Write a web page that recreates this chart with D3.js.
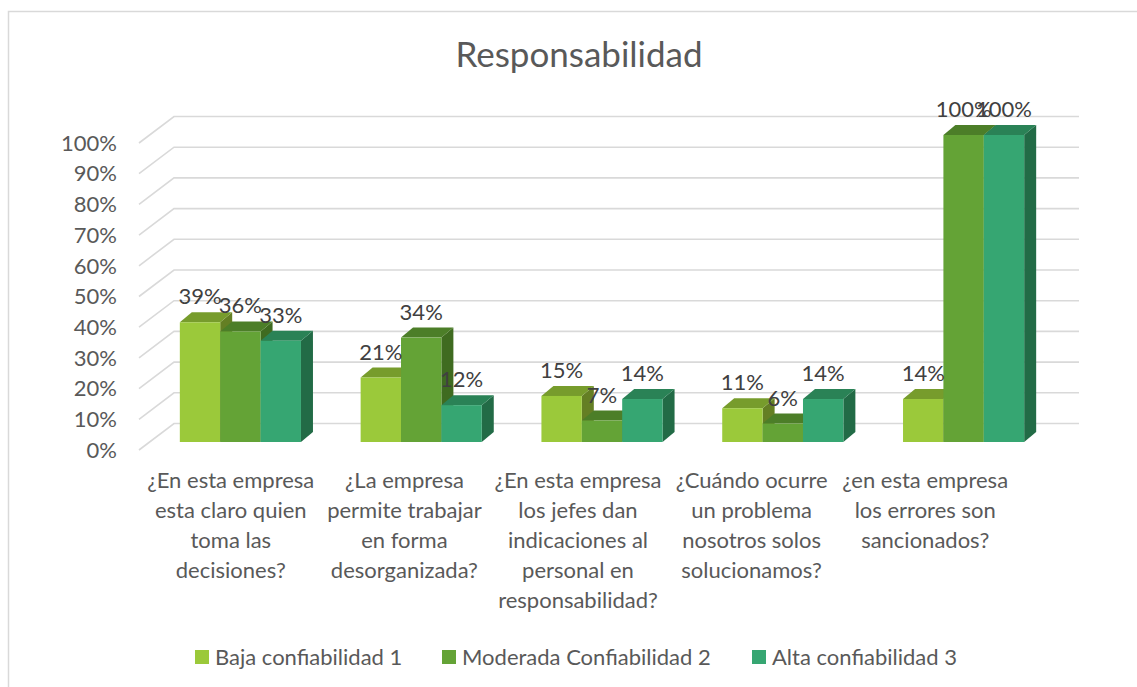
<!DOCTYPE html>
<html>
<head>
<meta charset="utf-8">
<script src="https://cdn.jsdelivr.net/npm/d3@7"></script>
<style>
  html, body { margin: 0; padding: 0; background: #ffffff; }
  svg { display: block; }
  text { font-family: Lato, "Open Sans", sans-serif; }
</style>
</head>
<body>
<svg id="chart" width="1137" height="687"></svg>
<script>
// ---- data ----
const title = "Responsabilidad";
const categories = [
  ["¿En esta empresa", "esta claro quien", "toma las", "decisiones?"],
  ["¿La empresa", "permite trabajar", "en forma", "desorganizada?"],
  ["¿En esta empresa", "los jefes dan", "indicaciones al", "personal en", "responsabilidad?"],
  ["¿Cuándo ocurre", "un problema", "nosotros solos", "solucionamos?"],
  ["¿en esta empresa", "los errores son", "sancionados?"]
];
const seriesNames = ["Baja confiabilidad 1", "Moderada Confiabilidad 2", "Alta confiabilidad 3"];
const baja      = [0.39, 0.21, 0.15, 0.11, 0.14];
const moderada  = [0.36, 0.34, 0.07, 0.06, 1.00];
const alta      = [0.33, 0.12, 0.14, 0.14, 1.00];
const yTicks    = [0, 0.1, 0.2, 0.3, 0.4, 0.5, 0.6, 0.7, 0.8, 0.9, 1.0];

// ---- styles ----
const seriesValues = [baja, moderada, alta];
const frontColors = ["#9BC93A", "#64A336", "#36A672"];
const topColors   = ["#779C2C", "#4C7E28", "#2A8256"];
const sideColors  = ["#647F24", "#3F6B20", "#226B46"];
const gridColor = "#D9D9D9";
const axisText = "#595959";
const labelText = "#404040";

const svg = d3.select("#chart");

// chart border (top & left visible)
svg.append("path")
  .attr("d", "M8.5,687 L8.5,11.5 L1137,11.5")
  .attr("fill", "none").attr("stroke", gridColor).attr("stroke-width", 1.5);

// title
svg.append("text")
  .attr("x", 579).attr("y", 67)
  .attr("text-anchor", "middle")
  .attr("font-size", 35)
  .attr("fill", axisText)
  .text(title);

// ---- scales ----
const catIdx = categories.map((d, i) => i);
const x0 = d3.scaleBand().domain(catIdx).range([150, 1054]).paddingInner(0.33).paddingOuter(0.165);
const x1 = d3.scaleBand().domain(d3.range(seriesNames.length)).range([0, x0.bandwidth()]);
const y = d3.scaleLinear().domain([0, 1]).range([442, 135]);
const xLab = d3.scaleBand().domain(catIdx).range([144, 1012]);

const depthX = 12, depthY = -10;       // bar depth
const gridFrontX = 139, gridBackX = 174, gridRightX = 1079;
const gridFrontDY = 8, gridBackDY = -18.5;

// gridlines (3D wall)
const grid = svg.append("g");
yTicks.forEach(t => {
  const yy = y(t);
  grid.append("path")
    .attr("d", `M${gridFrontX},${yy + gridFrontDY} L${gridBackX},${yy + gridBackDY} L${gridRightX},${yy + gridBackDY}`)
    .attr("fill", "none").attr("stroke", gridColor).attr("stroke-width", 1.6);
});

// y-axis labels
svg.append("g").selectAll("text").data(yTicks).join("text")
  .attr("x", 117)
  .attr("y", d => y(d) + gridFrontDY)
  .attr("dy", "0.35em")
  .attr("text-anchor", "end")
  .attr("font-size", 22)
  .attr("fill", axisText)
  .text(d => d3.format(".0%")(d));

// bars
const bars = svg.append("g");
const base = y(0);
catIdx.forEach(ci => {
  seriesValues.forEach((vals, si) => {
    const v = vals[ci];
    const x = x0(ci) + x1(si);
    const w = x1.bandwidth();
    const top = y(v);
    const g = bars.append("g");
    g.append("path")
      .attr("d", `M${x + w},${top} L${x + w + depthX},${top + depthY} L${x + w + depthX},${base + depthY} L${x + w},${base} Z`)
      .attr("fill", sideColors[si]);
    g.append("path")
      .attr("d", `M${x},${top} L${x + depthX},${top + depthY} L${x + w + depthX},${top + depthY} L${x + w},${top} Z`)
      .attr("fill", topColors[si]);
    g.append("rect")
      .attr("x", x).attr("y", top)
      .attr("width", w).attr("height", base - top)
      .attr("fill", frontColors[si]);
  });
});

// data labels
const labels = svg.append("g");
catIdx.forEach(ci => {
  seriesValues.forEach((vals, si) => {
    const v = vals[ci];
    labels.append("text")
      .attr("x", x0(ci) + x1(si) + x1.bandwidth() / 2)
      .attr("y", y(v) + depthY - 8)
      .attr("text-anchor", "middle")
      .attr("font-size", 22)
      .attr("fill", labelText)
      .text(d3.format(".0%")(v));
  });
});

// category labels
const catG = svg.append("g");
categories.forEach((lines, ci) => {
  const t = catG.append("text")
    .attr("text-anchor", "middle")
    .attr("font-size", 22)
    .attr("fill", axisText);
  lines.forEach((ln, k) => {
    t.append("tspan")
      .attr("x", xLab(ci) + xLab.bandwidth() / 2)
      .attr("y", 488 + 30 * k)
      .text(ln);
  });
});

// legend
const legendX = [195, 442, 752];
const legend = svg.append("g");
seriesNames.forEach((name, si) => {
  legend.append("rect")
    .attr("x", legendX[si]).attr("y", 650)
    .attr("width", 14).attr("height", 14)
    .attr("fill", frontColors[si]);
  legend.append("text")
    .attr("x", legendX[si] + 20).attr("y", 657)
    .attr("dy", "0.35em")
    .attr("font-size", 22)
    .attr("fill", axisText)
    .text(name);
});
</script>
</body>
</html>
